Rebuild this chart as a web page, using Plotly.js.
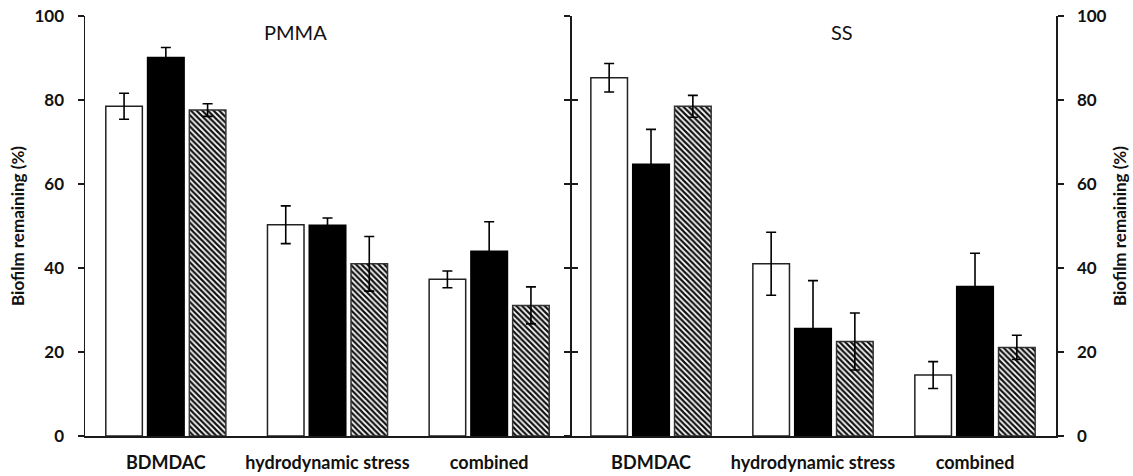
<!DOCTYPE html>
<html>
<head>
<meta charset="utf-8">
<script src="https://cdn.plot.ly/plotly-3.0.1.min.js"></script>
<style>html,body{margin:0;padding:0;background:#fff;}#chart{width:1133px;height:476px;}</style>
</head>
<body>
<div id="chart"></div>
<script>
// Categories and tick labels
const categories = ["BDMDAC", "hydrodynamic stress", "combined"];
const panels = ["PMMA", "SS"];
const yTicks = [0, 20, 40, 60, 80, 100];

// PMMA values (%) and error bars
const pmmaWhite = [78.5, 50.3, 37.3];
const pmmaWhiteErr = [3.1, 4.5, 2.0];
const pmmaBlack = [90.1, 50.2, 44.0];
const pmmaBlackErr = [2.4, 1.7, 7.0];
const pmmaHatch = [77.6, 41.0, 31.1];
const pmmaHatchErr = [1.5, 6.5, 4.4];

// SS values (%) and error bars
const ssWhite = [85.3, 41.0, 14.5];
const ssWhiteErr = [3.4, 7.5, 3.2];
const ssBlack = [64.7, 25.6, 35.6];
const ssBlackErr = [8.3, 11.4, 7.9];
const ssHatch = [78.5, 22.5, 21.1];
const ssHatchErr = [2.6, 6.8, 2.9];

const FONT = "Lato, 'Open Sans', sans-serif";
const AX = "#1a1a1a";

function err(a) {
  return {type: "data", array: a, visible: true, color: "#000", thickness: 1.6, width: 5};
}
const whiteMarker = {color: "#ffffff", line: {color: "#222", width: 1.5}};
const blackMarker = {color: "#000000", line: {color: "#000", width: 1.5}};
const hatchMarker = {color: "#ffffff", line: {color: "#333", width: 1.5},
  pattern: {shape: "\\", size: 4, solidity: 0.55, fgcolor: "#111", bgcolor: "#ffffff", fillmode: "replace"}};

function bar(y, e, marker, xa) {
  return {type: "bar", x: categories, y: y, error_y: err(e), marker: marker,
    xaxis: xa, yaxis: "y", hoverinfo: "skip", showlegend: false};
}

const data = [
  bar(pmmaWhite, pmmaWhiteErr, whiteMarker, "x"),
  bar(pmmaBlack, pmmaBlackErr, blackMarker, "x"),
  bar(pmmaHatch, pmmaHatchErr, hatchMarker, "x"),
  bar(ssWhite, ssWhiteErr, whiteMarker, "x2"),
  bar(ssBlack, ssBlackErr, blackMarker, "x2"),
  bar(ssHatch, ssHatchErr, hatchMarker, "x2"),
  {type: "scatter", x: [null], y: [null], xaxis: "x2", yaxis: "y2", showlegend: false, hoverinfo: "skip"},
  {type: "scatter", x: [null], y: [null], xaxis: "x", yaxis: "y3", showlegend: false, hoverinfo: "skip"},
  {type: "scatter", x: [null], y: [null], xaxis: "x", yaxis: "y4", showlegend: false, hoverinfo: "skip"}
];

const split = 0.4995;
const xBase = {
  type: "category", range: [-0.5, 2.5], showline: true, linecolor: AX, linewidth: 1.5,
  ticks: "", showgrid: false, zeroline: false, fixedrange: true,
  tickfont: {family: FONT, size: 18, color: "#111", weight: "bold"}, ticklabelstandoff: 10
};
const yBase = {
  range: [0, 100], tickvals: yTicks, showline: true, linecolor: AX, linewidth: 1.5,
  showgrid: false, zeroline: false, ticks: "outside", ticklen: 6, tickwidth: 1.5, tickcolor: AX,
  fixedrange: true
};
const titleFont = {family: FONT, size: 17, color: "#111", weight: "bold"};

const layout = {
  width: 1133, height: 476,
  margin: {l: 85, r: 77, t: 16, b: 40},
  paper_bgcolor: "#fff", plot_bgcolor: "#fff",
  barmode: "group", bargap: 0.225, bargroupgap: 0.125,
  showlegend: false,
  xaxis: Object.assign({}, xBase, {domain: [0, split], anchor: "y"}),
  xaxis2: Object.assign({}, xBase, {domain: [split, 1], anchor: "y"}),
  yaxis: Object.assign({}, yBase, {
    side: "left", anchor: "x",
    tickfont: {family: FONT, size: 17, color: "#111", weight: "bold"}, ticklabelstandoff: 10,
    title: {text: "Biofilm remaining (%)", font: titleFont, standoff: 5}
  }),
  yaxis2: Object.assign({}, yBase, {
    side: "right", overlaying: "y", anchor: "x2",
    tickfont: {family: FONT, size: 17, color: "#111", weight: "bold"}, ticklabelstandoff: 10,
    title: {text: "Biofilm remaining (%)", font: titleFont, standoff: 8}
  }),
  yaxis3: Object.assign({}, yBase, {
    overlaying: "y", anchor: "free", position: split, side: "left", showticklabels: false
  }),
  yaxis4: Object.assign({}, yBase, {
    overlaying: "y", anchor: "free", position: split, side: "left", ticks: "inside", showticklabels: false
  }),
  annotations: [
    {text: panels[0], xref: "x", yref: "paper", x: 0.8, y: 1, yshift: -16, showarrow: false,
     font: {family: FONT, size: 20, color: "#111"}, xanchor: "center", yanchor: "middle"},
    {text: panels[1], xref: "x2", yref: "paper", x: 1.18, y: 1, yshift: -16, showarrow: false,
     font: {family: FONT, size: 20, color: "#111"}, xanchor: "center", yanchor: "middle"}
  ]
};

Plotly.newPlot("chart", data, layout, {staticPlot: true, displayModeBar: false});
</script>
</body>
</html>
